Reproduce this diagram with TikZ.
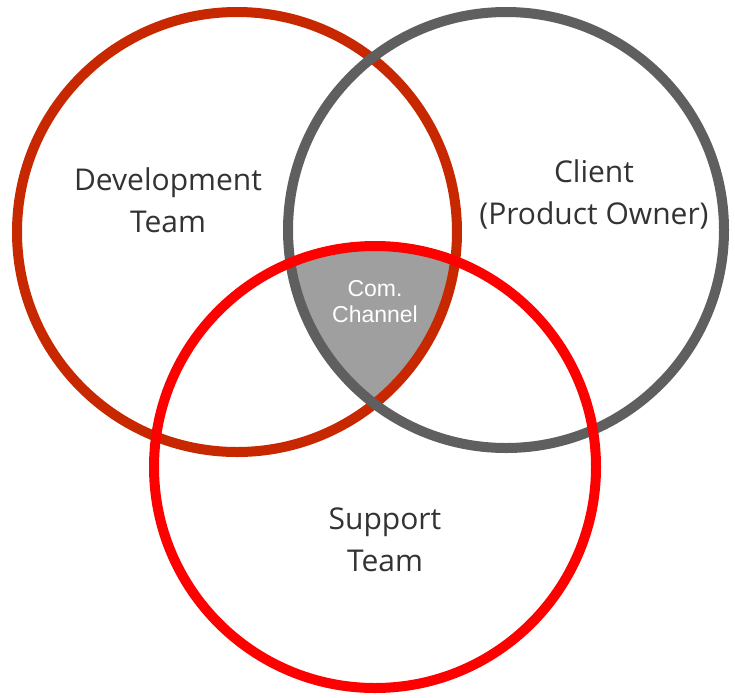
\documentclass[tikz,border=0pt]{standalone}
\usepackage{fontspec}
\setmainfont{Open Sans}
\newfontfamily\channelfont{Liberation Sans}
\usetikzlibrary{positioning}

\definecolor{DevRed}{HTML}{C82800}
\definecolor{ClientGray}{HTML}{5F5F5F}
\definecolor{SupportRed}{HTML}{FF0000}
\definecolor{ChannelGray}{HTML}{9F9F9F}
\definecolor{LabelGray}{HTML}{333333}

\tikzset{
    ring/.style={line width=10pt},
    teamlabel/.style={text=LabelGray, align=center, inner sep=0pt,
        font=\fontsize{30}{42}\selectfont},
    channellabel/.style={text=white, align=center, inner sep=0pt,
        font=\channelfont\fontsize{23}{26}\selectfont}
}

\begin{document}
\begin{tikzpicture}[x=1pt, y=-1pt]
    \def\rdev{220pt}
    \def\rcli{218pt}
    \def\rsup{221pt}

    \useasboundingbox[fill=white] (0,0) rectangle (735,697);

    \coordinate (dev) at (237,232);
    \coordinate (cli) at (506,230);
    \coordinate (sup) at (375,467);

    % common area of all three
    \begin{scope}
        \clip (dev) circle (\rdev);
        \clip (cli) circle (\rcli);
        \fill[ChannelGray] (sup) circle (\rsup);
    \end{scope}

    % rings
    \draw[ring, DevRed] (dev) circle (\rdev);
    \draw[ring, ClientGray] (cli) circle (\rcli);
    \draw[ring, SupportRed] (sup) circle (\rsup);

    % labels
    \node[teamlabel] (devlabel) at (168,200) {Development\\Team};
    \node[teamlabel] (clilabel) at (594,194) {Client\\(Product Owner)};
    \node[teamlabel] (suplabel) at (385,540) {Support\\Team};
    \node[channellabel] (comlabel) at (375,301.5) {Com.\\Channel};
\end{tikzpicture}
\end{document}
